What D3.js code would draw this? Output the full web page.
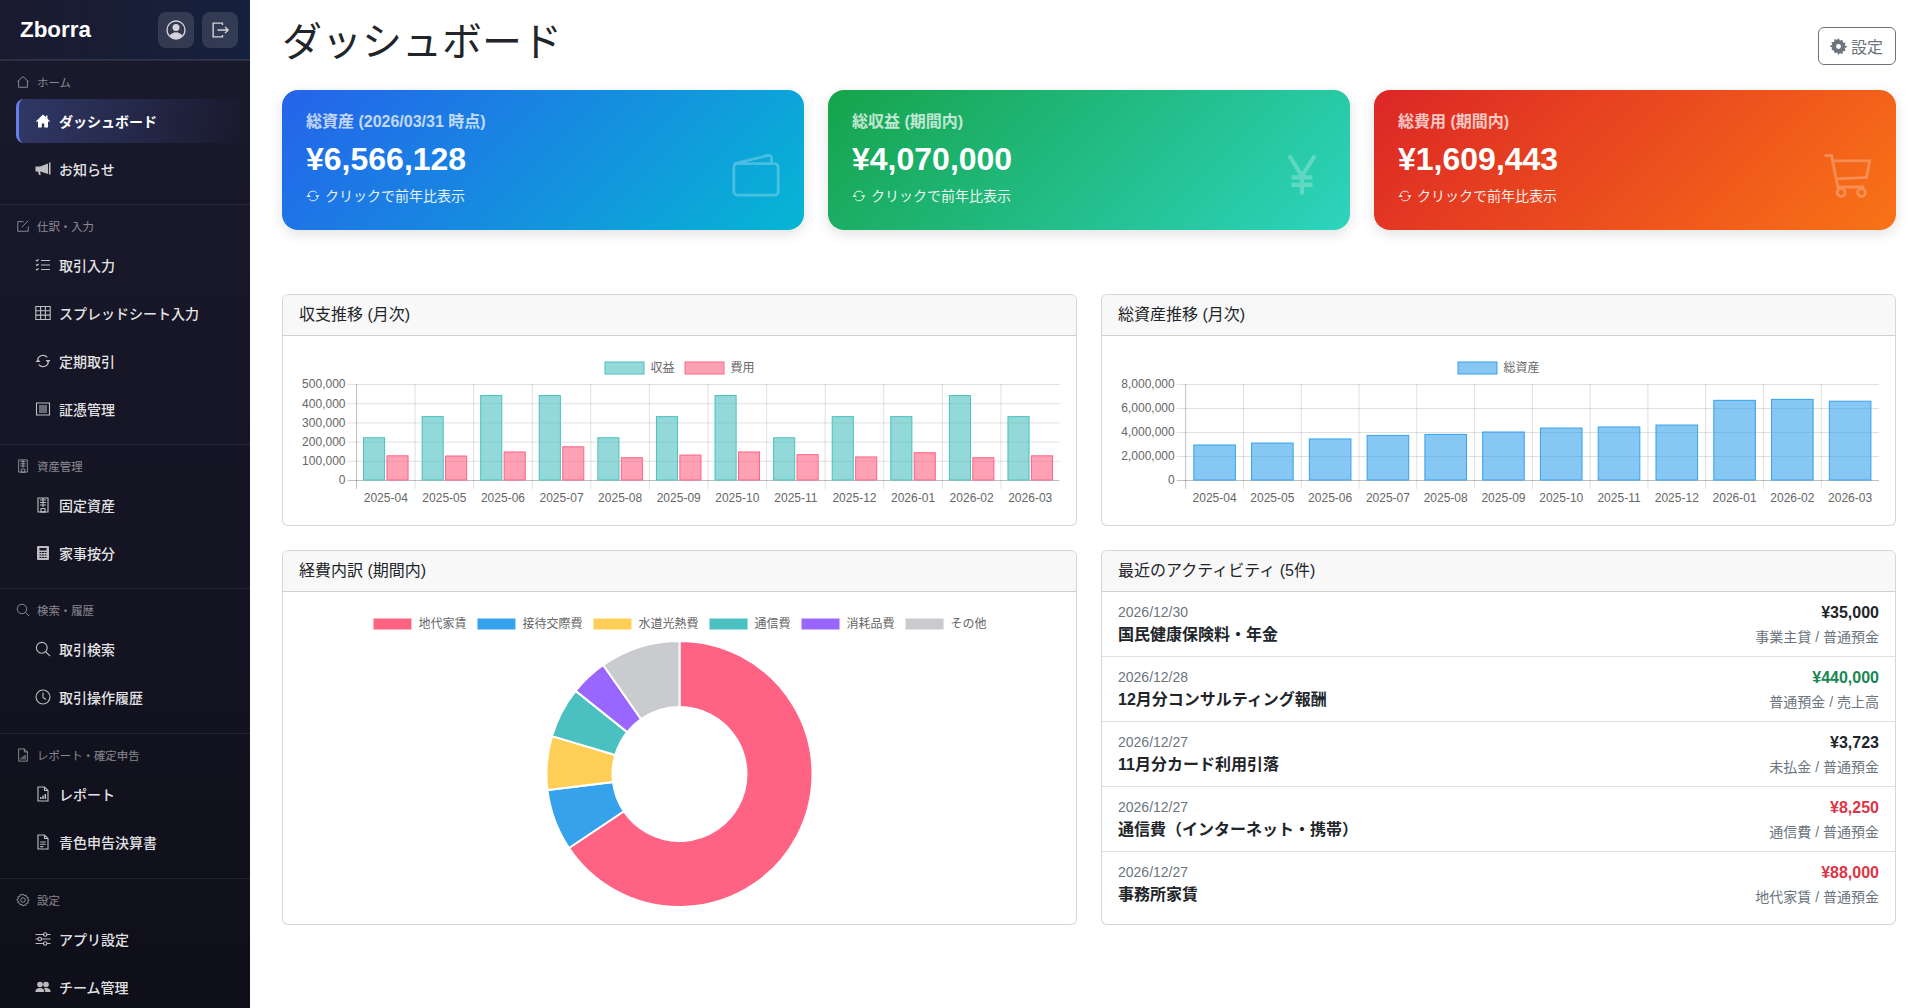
<!DOCTYPE html>
<html lang="ja">
<head>
<meta charset="utf-8">
<title>ダッシュボード</title>
<script src="https://cdn.jsdelivr.net/npm/d3@7"></script>
<style>
html, body { margin: 0; padding: 0; width: 1919px; height: 1008px; overflow: hidden; background: #fff; }
body { font-family: "Liberation Sans", "Noto Sans CJK JP", sans-serif; color: #212529; position: relative; }
svg text { font-family: "Liberation Sans", "Noto Sans CJK JP", sans-serif; }

#sidebar { position: absolute; left: 0; top: 0; width: 250px; height: 1008px; overflow: hidden; background: linear-gradient(180deg, #1a1a2e, #0f0f1a); color: #fff; }
#brand { height: 60px; box-sizing: border-box; border-bottom: 1px solid rgba(255,255,255,.1); background: linear-gradient(90deg, #1a1a2e, #16213e); position: relative; }
#brand .name { position: absolute; left: 20px; top: 13px; line-height: 34px; font-size: 22.4px; font-weight: 700; }
#brand .btn { position: absolute; top: 12px; width: 36px; height: 36px; border-radius: 8px; background: rgba(255,255,255,.12); color: #d4d5da; display: flex; align-items: center; justify-content: center; }
.sec { border-top: 1px solid rgba(255,255,255,.08); padding: 3px 0 9px; }
.sec:first-of-type { border-top: 0; }
.sec.wide { padding-bottom: 10px; }
.sec .head { height: 35px; display: flex; align-items: center; padding-left: 16px; font-size: 11.4px; color: rgba(255,255,255,.5); }
.sec .head svg { width: 14px; height: 14px; margin-right: 7px; }
.sec .item { height: 44px; margin: 0 0 4px 16px; box-sizing: border-box; display: flex; align-items: center; padding-left: 20px; font-size: 14px; font-weight: 500; color: rgba(255,255,255,.9); }
.sec .item svg { width: 16px; height: 16px; margin-right: 8px; margin-left: -1px; color: rgba(255,255,255,.72); flex: none; }
.sec .item.active { background: linear-gradient(90deg, rgba(102,126,234,.3), rgba(102,126,234,0)); border-left: 3px solid #667eea; border-radius: 8px 0 0 8px; padding-left: 17px; color: #fff; font-weight: 700; }
.sec .item.active svg { color: #fff; }

h1 { position: absolute; left: 282px; top: 14px; margin: 0; font-size: 40px; line-height: 56px; font-weight: 400; }
#settings { position: absolute; left: 1818px; top: 27px; width: 78px; height: 38px; box-sizing: border-box; border: 1px solid #6c757d; border-radius: 6px; color: #6c757d; font-size: 16px; display: flex; align-items: center; padding-left: 11px; }
#settings svg { width: 17px; height: 17px; margin-right: 4px; }

.stat { position: absolute; top: 90px; width: 522px; height: 140px; border-radius: 16px; color: #fff; box-shadow: 0 4px 14px rgba(0,0,0,.12); }
.stat .label { position: absolute; left: 24px; top: 20px; line-height: 24px; font-size: 16px; font-weight: 600; opacity: .72; }
.stat .value { position: absolute; left: 24px; top: 49px; line-height: 40px; font-size: 32px; font-weight: 700; }
.stat .hint { position: absolute; left: 24px; top: 95px; line-height: 22px; font-size: 14px; opacity: .9; display: flex; align-items: center; }
.stat .hint svg { width: 14px; height: 14px; margin-right: 5px; }
.stat .big { position: absolute; right: 24px; top: 61px; width: 48px; height: 48px; opacity: .25; }

.card { position: absolute; box-sizing: border-box; border: 1px solid rgba(0,0,0,.16); border-radius: 6px; overflow: hidden; background: #fff; }
.card .title { height: 41px; box-sizing: border-box; border-bottom: 1px solid rgba(0,0,0,.16); background: #f8f8f8; padding-left: 16px; font-size: 16px; line-height: 40px; }
.card svg { display: block; }
.row { height: 65px; box-sizing: border-box; border-bottom: 1px solid rgba(0,0,0,.12); position: relative; }
.row:last-child { border-bottom: 0; }
.row div { position: absolute; white-space: nowrap; }
.row .date { left: 16px; top: 10px; font-size: 14px; line-height: 20px; color: #6c757d; }
.row .what { left: 16px; top: 31px; font-size: 16px; line-height: 24px; font-weight: 700; }
.row .amt { right: 16px; top: 9px; font-size: 16px; line-height: 24px; font-weight: 700; }
.row .acct { right: 16px; top: 35px; font-size: 14px; line-height: 20px; color: #6c757d; }
</style>
</head>
<body>
<div id="sidebar"></div>
<h1>ダッシュボード</h1>
<div id="settings"></div>
<div id="stats"></div>
<div id="cards"></div>
<script>
// chart data
var months = ["2025-04", "2025-05", "2025-06", "2025-07", "2025-08", "2025-09", "2025-10", "2025-11", "2025-12", "2026-01", "2026-02", "2026-03"];
var income = [220000, 330000, 440000, 440000, 220000, 330000, 440000, 220000, 330000, 330000, 440000, 330000];
var expense = [126000, 125000, 146000, 173000, 116000, 130000, 146000, 132000, 120000, 142000, 116000, 126000];
var assets = [2920000, 3080000, 3420000, 3720000, 3800000, 4000000, 4330000, 4420000, 4580000, 6640000, 6720000, 6566128];
var incomeTicks = [0, 100000, 200000, 300000, 400000, 500000];
var assetTicks = [0, 2000000, 4000000, 6000000, 8000000];
var costLabels = ["地代家賃", "接待交際費", "水道光熱費", "通信費", "消耗品費", "その他"];
var costValues = [1056000, 120000, 105000, 99000, 73000, 156443];
var costColors = ["#FF6384", "#36A2EB", "#FFCE56", "#4BC0C0", "#9966FF", "#C9CBCF"];

// page content
var activityDates = ["2026/12/30", "2026/12/28", "2026/12/27", "2026/12/27", "2026/12/27"];
var activityNames = ["国民健康保険料・年金", "12月分コンサルティング報酬", "11月分カード利用引落", "通信費（インターネット・携帯）", "事務所家賃"];
var activityAmounts = ["¥35,000", "¥440,000", "¥3,723", "¥8,250", "¥88,000"];
var activityAccounts = ["事業主貸 / 普通預金", "普通預金 / 売上高", "未払金 / 普通預金", "通信費 / 普通預金", "地代家賃 / 普通預金"];
var activityColors = ["#212529", "#198754", "#212529", "#dc3545", "#dc3545"];

var statLabels = ["総資産 (2026/03/31 時点)", "総収益 (期間内)", "総費用 (期間内)"];
var statValues = ["¥6,566,128", "¥4,070,000", "¥1,609,443"];
var statIcons = ["wallet", "yen", "cart"];
var statGradients = ["#2563eb, #06b6d4", "#16a34a, #2dd4bf", "#dc2626, #f97316"];

var navSections = [
    { name: "ホーム", icon: "house", items: [["ダッシュボード", "houseFill"], ["お知らせ", "megaphone"]] },
    { name: "仕訳・入力", icon: "pencil", items: [["取引入力", "listCheck"], ["スプレッドシート入力", "table"], ["定期取引", "repeat"], ["証憑管理", "receipt"]] },
    { name: "資産管理", icon: "building", items: [["固定資産", "building"], ["家事按分", "calculator"]] },
    { name: "検索・履歴", icon: "search", wide: true, items: [["取引検索", "search"], ["取引操作履歴", "clock"]] },
    { name: "レポート・確定申告", icon: "fileBar", wide: true, items: [["レポート", "fileBar"], ["青色申告決算書", "fileText"]] },
    { name: "設定", icon: "gear", items: [["アプリ設定", "sliders"], ["チーム管理", "people"]] }
];

// small hand drawn icons on a 16x16 box
var line = 'fill="none" stroke="currentColor" stroke-width="1.1" ';
var solid = 'fill="currentColor" ';
var gearTeeth = "M8 1l1.1 2 2.2-.7.4 2.3 2.3.4-.7 2.2 2 1.1-2 1.1.7 2.2-2.3.4-.4 2.3-2.2-.7L8 15l-1.1-2-2.2.7-.4-2.3-2.3-.4.7-2.2-2-1.1 2-1.1-.7-2.2 2.3-.4.4-2.3 2.2.7z";
var icons = {
    person: '<circle cx="8" cy="8" r="7.2" ' + line + '/><circle cx="8" cy="6" r="2.8" ' + solid + '/><path d="M3 12.8C4 10.6 6 9.7 8 9.7s4 .9 5 3.1A7 7 0 0 1 8 15a7 7 0 0 1-5-2.2z" ' + solid + '/>',
    logout: '<path d="M10 4V2.5H2.5v11H10V12M6 8h8.5M12 5.5L14.5 8 12 10.5" ' + line + '/>',
    house: '<path d="M8 1.8L1.8 7.5M8 1.8l6.2 5.7M3 6.5V14h10V6.5" ' + line + '/>',
    houseFill: '<path d="M8 1.5L1 8.2l.8.8L3 8v6.5h3.8v-4h2.4v4H13V8l1.2 1 .8-.8-2.5-2.4V2.5H11v1.8z" ' + solid + '/>',
    megaphone: '<path d="M14 1.5h1.5v12H14zM13 2.5L5 5.5H.5v5H3l1 3.5h1.8l-.8-3.5h.2l8 2.5z" ' + solid + '/>',
    pencil: '<path d="M14 8.5V14H2V3h6.5M6.5 9.5L14 2" ' + line + ' stroke-width="1.4"/>',
    listCheck: '<path d="M6 3.5h9M6 8h9M6 12.5h9M1 3l1 1 1.6-1.6M1 7.5l1 1L3.6 7M1 12l1 1 1.6-1.6" ' + line + '/>',
    table: '<path d="M.8 1.5h14.4v13H.8zM.8 5.8h14.4M.8 10.1h14.4M5.6 1.5v13M10.4 1.5v13" ' + line + '/>',
    repeat: '<path d="M2.5 6.5A5.7 5.7 0 0 1 12.3 4.4M13.5 9.5A5.7 5.7 0 0 1 3.7 11.6" ' + line + ' stroke-width="1.4"/><path d="M10.5 7h5l-2.5 3zM5.5 9h-5L3 6z" ' + solid + '/>',
    receipt: '<path d="M1.5 2h13v12h-13z" ' + line + ' stroke-width="1.5"/><path d="M4 5h8M4 7h8M4 9h8M4 11h8" ' + line + '/>',
    building: '<path d="M3 1h10v14H3z" ' + line + '/><path d="M5 3h6M5 5.5h6M5 8h6M8 1v9M6 11.5h4V15H6z" ' + line + '/>',
    calculator: '<path d="M3 1h10a1 1 0 0 1 1 1v12a1 1 0 0 1-1 1H3a1 1 0 0 1-1-1V2a1 1 0 0 1 1-1z" ' + solid + '/><path d="M4.5 3h7v2.5h-7z" fill="#15152a"/><path d="M4.5 7.5h2M7 7.5h2M9.5 7.5h2M4.5 10h2M7 10h2M9.5 10h2M4.5 12.5h2M7 12.5h2M9.5 12.5h2" stroke="#15152a" stroke-width="1.2"/>',
    search: '<circle cx="6.8" cy="6.8" r="5.4" ' + line + ' stroke-width="1.3"/><path d="M10.8 10.8L15 15" ' + line + ' stroke-width="1.5"/>',
    clock: '<circle cx="8" cy="8" r="7" ' + line + '/><path d="M8 3.5V8.5L11 10.5" ' + line + '/>',
    fileBar: '<path d="M3 1h6.5L13 4.5V15H3zM9.5 1v3.5H13" ' + line + '/><path d="M5 11h1.5v2H5zM7.3 9.5h1.5V13H7.3zM9.6 8h1.5v5H9.6z" ' + solid + '/>',
    fileText: '<path d="M3 1h6.5L13 4.5V15H3zM9.5 1v3.5H13M5.3 8h5.4M5.3 10.3h5.4M5.3 12.6h3" ' + line + '/>',
    gear: '<path d="' + gearTeeth + '" ' + line + '/><circle cx="8" cy="8" r="2.6" ' + line + '/>',
    gearFill: '<path d="' + gearTeeth + '" ' + solid + ' stroke="currentColor" stroke-width="1"/><circle cx="8" cy="8" r="2.3" fill="#fff"/>',
    sliders: '<path d="M.5 3.5h8M12 3.5h3.5M.5 8h2.5M6.5 8h9M.5 12.5h8M12 12.5h3.5" ' + line + '/><circle cx="10.2" cy="3.5" r="1.7" ' + line + '/><circle cx="4.8" cy="8" r="1.7" ' + line + '/><circle cx="10.2" cy="12.5" r="1.7" ' + line + '/>',
    people: '<circle cx="5" cy="5.5" r="2.8" ' + solid + '/><circle cx="11" cy="5.5" r="2.8" ' + solid + '/><path d="M.3 13c0-2.5 2-4 4.7-4s4.3 1.5 4.3 4zM10.3 13c0-1.5-.5-2.8-1.5-3.7.7-.2 1.4-.3 2.2-.3 2.7 0 4.7 1.5 4.7 4z" ' + solid + '/>',
    wallet: '<path d="M.6 4.3L11.8 1.5c.8-.2 1.4.2 1.4 1V4.2M.6 5.5c0-.8.5-1.3 1.3-1.3h12.2c.8 0 1.3.5 1.3 1.3v7.9c0 .8-.5 1.3-1.3 1.3H1.9c-.8 0-1.3-.5-1.3-1.3z" fill="none" stroke="currentColor" stroke-width=".95"/>',
    yen: '<path d="M3.7 1.5L8 8.3l4.3-6.8M8 8.3v6.2M4.5 8.8h7M4.5 11.3h7" fill="none" stroke="currentColor" stroke-width="1.4"/>',
    cart: '<path d="M.2 1.5H2.5L4.6 12H13.5M3 3.3H15.2L14.2 8.8L4 9.3" fill="none" stroke="currentColor" stroke-width=".95"/><circle cx="5.7" cy="13.8" r="1.3" fill="none" stroke="currentColor" stroke-width=".95"/><circle cx="12.5" cy="13.8" r="1.3" fill="none" stroke="currentColor" stroke-width=".95"/>'
};

function icon(name){
    return '<svg viewBox="0 0 16 16" xmlns="http://www.w3.org/2000/svg">' + icons[name] + '</svg>';
}

// sidebar
var side = d3.select("#sidebar");
var brand = side.append("div").attr("id", "brand");
brand.append("div").attr("class", "name").text("Zborra");
brand.append("div").attr("class", "btn").style("left", "158px").html(icon("person").replace("<svg", '<svg width="20" height="20"'));
brand.append("div").attr("class", "btn").style("left", "202px").html(icon("logout").replace("<svg", '<svg width="20" height="20"'));

var secs = side.selectAll(".sec").data(navSections).enter().append("div")
    .attr("class", function(d){ return d.wide ? "sec wide" : "sec"; });
secs.append("div").attr("class", "head").html(function(d){ return icon(d.icon) + "<span>" + d.name + "</span>"; });
secs.selectAll(".item").data(function(d){ return d.items; }).enter().append("div")
    .attr("class", function(d){ return d[0] === "ダッシュボード" ? "item active" : "item"; })
    .html(function(d){ return icon(d[1]) + "<span>" + d[0] + "</span>"; });

d3.select("#settings").html(icon("gearFill") + "<span>設定</span>");

// gradient cards
var stats = d3.select("#stats").selectAll(".stat").data(statLabels).enter().append("div")
    .attr("class", "stat")
    .style("left", function(d, i){ return (282 + i * 546) + "px"; })
    .style("background", function(d, i){ return "linear-gradient(135deg, " + statGradients[i] + ")"; });
stats.append("div").attr("class", "label").text(function(d){ return d; });
stats.append("div").attr("class", "value").text(function(d, i){ return statValues[i]; });
stats.append("div").attr("class", "hint").html(icon("repeat") + "<span>クリックで前年比表示</span>");
stats.append("div").attr("class", "big").html(function(d, i){ return icon(statIcons[i]); });

function makeCard(left, top, width, height, title){
    var card = d3.select("#cards").append("div").attr("class", "card")
        .style("left", left + "px").style("top", top + "px")
        .style("width", width + "px").style("height", height + "px");
    card.append("div").attr("class", "title").text(title);
    return card;
}

function drawLegend(svg, y, width, labels, fills, strokes){
    var g = svg.append("g");
    var x = 0;
    labels.forEach(function(label, i){
        g.append("rect").attr("x", x + .5).attr("y", -6).attr("width", 39).attr("height", 12)
            .attr("fill", fills[i]).attr("stroke", strokes[i]);
        var t = g.append("text").attr("x", x + 46).attr("y", 0).attr("dy", ".35em")
            .attr("font-size", 12).attr("fill", "#666").text(label);
        x += 46 + t.node().getComputedTextLength() + 10;
    });
    g.attr("transform", "translate(" + (width - (x - 10)) / 2 + "," + y + ")");
}

function drawBars(card, opts){
    var width = 793, height = 189;
    var top = 48, bottom = 144;
    var svg = card.append("svg").attr("width", width).attr("height", height);

    var x = d3.scaleBand().domain(months).range([opts.left, opts.right]);
    var y = d3.scaleLinear().domain([0, d3.max(opts.ticks)]).range([bottom, top]);
    var sub = d3.scaleBand().domain(opts.series.map(function(s){ return s.name; }))
        .range([0, x.bandwidth() * .8]).paddingInner(.1).paddingOuter(.05);

    // grid
    svg.append("g").selectAll("line").data(opts.ticks).enter().append("line")
        .attr("x1", opts.left - 9).attr("x2", opts.right)
        .attr("y1", function(d){ return y(d) + .5; }).attr("y2", function(d){ return y(d) + .5; })
        .attr("stroke", function(d){ return d === 0 ? "rgba(0,0,0,.25)" : "rgba(0,0,0,.12)"; });
    svg.append("g").selectAll("line").data(months).enter().append("line")
        .attr("x1", function(d){ return x(d); })
        .attr("x2", function(d){ return x(d); })
        .attr("y1", top).attr("y2", bottom + 9)
        .attr("stroke", function(d, i){ return i === 0 ? "rgba(0,0,0,.25)" : "rgba(0,0,0,.12)"; });

    // bars
    opts.series.forEach(function(s){
        svg.append("g").selectAll("rect").data(s.values).enter().append("rect")
            .attr("x", function(d, i){ return x(months[i]) + x.bandwidth() * .1 + sub(s.name); })
            .attr("y", function(d){ return y(d); })
            .attr("width", sub.bandwidth())
            .attr("height", function(d){ return y(0) - y(d); })
            .attr("fill", s.fill)
            .attr("stroke", s.stroke);
    });

    // axes, only for the labels
    var ay = svg.append("g").attr("transform", "translate(" + (opts.left - 11) + ",0)")
        .call(d3.axisLeft(y).tickValues(opts.ticks).tickFormat(d3.format(",")).tickSize(0).tickPadding(0));
    var ax = svg.append("g").attr("transform", "translate(0," + (bottom + 8) + ")")
        .call(d3.axisBottom(x).tickSize(0).tickPadding(5));
    [ay, ax].forEach(function(a){
        a.select(".domain").remove();
        a.selectAll("text").attr("font-size", 12).attr("fill", "#666");
    });

    drawLegend(svg, 32, width, opts.series.map(function(s){ return s.name; }),
        opts.series.map(function(s){ return s.fill; }),
        opts.series.map(function(s){ return s.stroke; }));
}

var teal = "rgb(75,192,192)", pink = "rgb(255,99,132)", blue = "rgb(54,162,235)";

drawBars(makeCard(282, 294, 795, 232, "収支推移 (月次)"), {
    left: 73.5, right: 776.5, ticks: incomeTicks,
    series: [
        { name: "収益", values: income, fill: "rgba(75,192,192,.6)", stroke: teal },
        { name: "費用", values: expense, fill: "rgba(255,99,132,.6)", stroke: pink }
    ]
});

drawBars(makeCard(1101, 294, 795, 232, "総資産推移 (月次)"), {
    left: 83.7, right: 777, ticks: assetTicks,
    series: [
        { name: "総資産", values: assets, fill: "rgba(54,162,235,.6)", stroke: blue }
    ]
});

// doughnut
var costCard = makeCard(282, 550, 795, 375, "経費内訳 (期間内)");
var costSvg = costCard.append("svg").attr("width", 793).attr("height", 332);
var pie = d3.pie().sort(null).value(function(d){ return d; });
var arc = d3.arc().innerRadius(67).outerRadius(133);
costSvg.append("g").attr("transform", "translate(396.5,182)")
    .selectAll("path").data(pie(costValues)).enter().append("path")
    .attr("d", arc)
    .attr("fill", function(d, i){ return costColors[i]; })
    .attr("stroke", "#fff").attr("stroke-width", 2);
drawLegend(costSvg, 32, 793, costLabels, costColors, costLabels.map(function(){ return "#fff"; }));

// activity list
var activityCard = makeCard(1101, 550, 795, 375, "最近のアクティビティ (5件)");
var rows = activityCard.selectAll(".row").data(activityDates).enter().append("div").attr("class", "row");
rows.append("div").attr("class", "date").text(function(d){ return d; });
rows.append("div").attr("class", "what").text(function(d, i){ return activityNames[i]; });
rows.append("div").attr("class", "amt").style("color", function(d, i){ return activityColors[i]; }).text(function(d, i){ return activityAmounts[i]; });
rows.append("div").attr("class", "acct").text(function(d, i){ return activityAccounts[i]; });
</script>
</body>
</html>
